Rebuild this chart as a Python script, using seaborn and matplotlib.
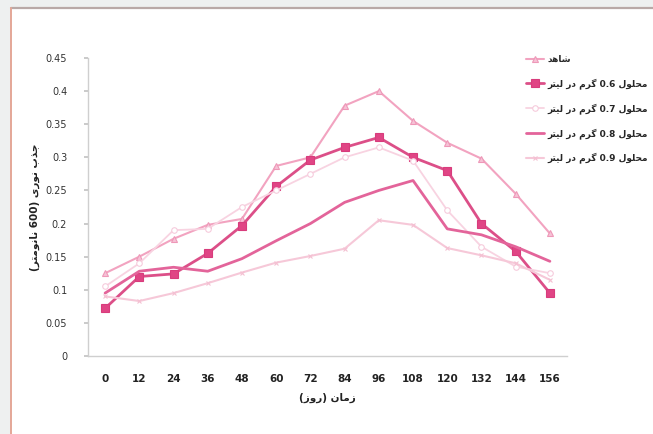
import numpy as np
import pandas as pd
import matplotlib
matplotlib.use("Agg")
import matplotlib.pyplot as plt
from matplotlib.lines import Line2D
from matplotlib.patches import Rectangle
from matplotlib.ticker import FixedLocator, FuncFormatter
import seaborn as sns

# ---- data: optical density over time (hours) ----
hours = [0, 12, 24, 36, 48, 60, 72, 84, 96, 108, 120, 132, 144, 156]
control = [0.125, 0.150, 0.177, 0.198, 0.207, 0.287, 0.300, 0.378, 0.400, 0.355, 0.322, 0.298, 0.245, 0.185]
sol_06 = [0.072, 0.120, 0.124, 0.155, 0.197, 0.256, 0.296, 0.315, 0.330, 0.300, 0.280, 0.200, 0.158, 0.095]
sol_07 = [0.105, 0.140, 0.190, 0.192, 0.225, 0.250, 0.275, 0.300, 0.315, 0.295, 0.220, 0.165, 0.135, 0.125]
sol_08 = [0.095, 0.128, 0.134, 0.128, 0.147, 0.174, 0.200, 0.232, 0.250, 0.265, 0.192, 0.183, 0.165, 0.143]
sol_09 = [0.090, 0.083, 0.095, 0.110, 0.126, 0.141, 0.151, 0.162, 0.205, 0.198, 0.163, 0.152, 0.140, 0.115]

series_names = ["شاهد",
                "محلول 0.6 گرم در لیتر",
                "محلول 0.7 گرم در لیتر",
                "محلول 0.8 گرم در لیتر",
                "محلول 0.9 گرم در لیتر"]
x_title = "زمان (روز)"
y_title = "جذب نوری (600 نانومتر)"
y_ticks = [0, 0.05, 0.1, 0.15, 0.2, 0.25, 0.3, 0.35, 0.4, 0.45]

# ---- minimal Persian shaping + right-to-left ordering for matplotlib ----
# (isolated, final, initial, medial); two-form letters do not join to the left
FORMS = {
    "ا": ("\uFE8D", "\uFE8E"), "د": ("\uFEA9", "\uFEAA"), "ذ": ("\uFEAB", "\uFEAC"),
    "ر": ("\uFEAD", "\uFEAE"), "ز": ("\uFEAF", "\uFEB0"), "و": ("\uFEED", "\uFEEE"),
    "ب": ("\uFE8F", "\uFE90", "\uFE91", "\uFE92"), "ت": ("\uFE95", "\uFE96", "\uFE97", "\uFE98"),
    "ج": ("\uFE9D", "\uFE9E", "\uFE9F", "\uFEA0"), "ح": ("\uFEA1", "\uFEA2", "\uFEA3", "\uFEA4"),
    "ش": ("\uFEB5", "\uFEB6", "\uFEB7", "\uFEB8"), "ل": ("\uFEDD", "\uFEDE", "\uFEDF", "\uFEE0"),
    "م": ("\uFEE1", "\uFEE2", "\uFEE3", "\uFEE4"), "ن": ("\uFEE5", "\uFEE6", "\uFEE7", "\uFEE8"),
    "ه": ("\uFEE9", "\uFEEA", "\uFEEB", "\uFEEC"), "ی": ("\uFBFC", "\uFBFD", "\uFBFE", "\uFBFF"),
    "گ": ("\uFB92", "\uFB93", "\uFB94", "\uFB95"),
}


def shape(text):
    out = []
    for i, ch in enumerate(text):
        if ch not in FORMS:
            out.append(ch)
            continue
        prev = text[i - 1] if i > 0 else ""
        nxt = text[i + 1] if i + 1 < len(text) else ""
        joins_prev = prev in FORMS and len(FORMS[prev]) == 4
        joins_next = nxt in FORMS and len(FORMS[ch]) == 4
        f = FORMS[ch]
        if joins_prev and joins_next:
            out.append(f[3])
        elif joins_prev:
            out.append(f[1])
        elif joins_next:
            out.append(f[2])
        else:
            out.append(f[0])
    return "".join(out)


def rtl(text):
    s = shape(text)
    runs, cur, cur_ltr = [], "", None
    for ch in s:
        is_ltr = ch.isdigit() or (ch == "." and cur_ltr)
        if cur_ltr is None or is_ltr == cur_ltr:
            cur += ch
        else:
            runs.append((cur, cur_ltr))
            cur = ch
        cur_ltr = is_ltr
    runs.append((cur, cur_ltr))
    mirror = str.maketrans("()", ")(")
    parts = []
    for run, is_ltr in reversed(runs):
        parts.append(run if is_ltr else run[::-1].translate(mirror))
    return "".join(parts)


# ---- long-form table ----
values = [control, sol_06, sol_07, sol_08, sol_09]
pos = np.arange(len(hours))
df = pd.concat([pd.DataFrame({"pos": pos, "od": v, "series": rtl(n)})
                for n, v in zip(series_names, values)], ignore_index=True)

sns.set_theme(style="white")
plt.rcParams["font.family"] = ["DejaVu Sans"]

fig = plt.figure(figsize=(6.53, 4.34), dpi=100)
fig.patch.set_facecolor("#eef0f0")
# framed white panel
fig.add_artist(Rectangle((11 / 653, 0), 1, 1 - 8 / 434, transform=fig.transFigure,
                         facecolor="#ffffff", edgecolor="none", zorder=-5))
fig.add_artist(Line2D([11 / 653, 1], [1 - 8 / 434] * 2, transform=fig.transFigure,
                      color="#b9a9a7", lw=1.6))
fig.add_artist(Line2D([11 / 653] * 2, [0, 1 - 8 / 434], transform=fig.transFigure,
                      color="#e4a797", lw=1.4))

ax = fig.add_axes([88 / 653, 1 - 356 / 434, 479 / 653, 298 / 434])
ax.set_facecolor("none")

styles = [
    dict(color="#f2a3c0", lw=1.5, marker="^", ms=4, mfc="#f6c2d6", mec="#ee98b8", mew=0.8),
    dict(color="#dc4f88", lw=2.0, marker="s", ms=6, mfc="#e04585", mec="#d83c7c", mew=0.8),
    dict(color="#f8d3e1", lw=1.3, marker="o", ms=4, mfc="white", mec="#f6cbdc", mew=0.8),
    dict(color="#e3649a", lw=2.0, marker=None, ms=0, mfc="none", mec="none", mew=0),
    dict(color="#f6c8d8", lw=1.5, marker="x", ms=3, mfc="none", mec="#f4c0d2", mew=0.8),
]

for name, st in zip(series_names, styles):
    sub = df[df["series"] == rtl(name)]
    sns.lineplot(data=sub, x="pos", y="od", ax=ax, color=st["color"], lw=st["lw"],
                 marker=st["marker"], markersize=st["ms"], markerfacecolor=st["mfc"],
                 markeredgecolor=st["mec"], markeredgewidth=st["mew"],
                 sort=False, label=rtl(name), legend=False)

ax.set_xlim(-0.5, len(hours) - 0.5)
ax.set_ylim(0, 0.45)
ax.set_yticks(y_ticks)
ax.yaxis.set_major_formatter(FuncFormatter(lambda v, _: f"{v:g}"))
ax.set_xticks(pos)
ax.set_xticklabels([str(h) for h in hours], fontweight="bold")
ax.xaxis.set_minor_locator(FixedLocator(np.arange(-0.5, len(hours), 1.0)))
ax.tick_params(axis="x", which="major", length=0, pad=13, labelsize=7.5, colors="#222222")
ax.tick_params(axis="x", which="minor", length=3, direction="in", color="#c4c4c4", width=0.8)
ax.tick_params(axis="y", which="major", left=True, length=3, direction="out", pad=12,
               labelsize=7, colors="#333333", color="#c4c4c4")

for side in ("top", "right"):
    ax.spines[side].set_visible(False)
for side in ("left", "bottom"):
    ax.spines[side].set_color("#cfcfcf")
    ax.spines[side].set_linewidth(1.0)

ax.set_xlabel(rtl(x_title), fontsize=7.5, fontweight="bold", color="#222222", labelpad=6)
ax.set_ylabel(rtl(y_title), fontsize=7.5, fontweight="bold", color="#222222", labelpad=4)

handles, labels = ax.get_legend_handles_labels()
fig.legend(handles, labels, loc="upper left", bbox_to_anchor=(518 / 653, 1 - 47 / 434),
           frameon=False, fontsize=6.5, handlelength=2.0, handletextpad=0.4,
           labelspacing=1.55, prop={"weight": "bold", "size": 6.5})

fig.savefig("out.png", dpi=100)
